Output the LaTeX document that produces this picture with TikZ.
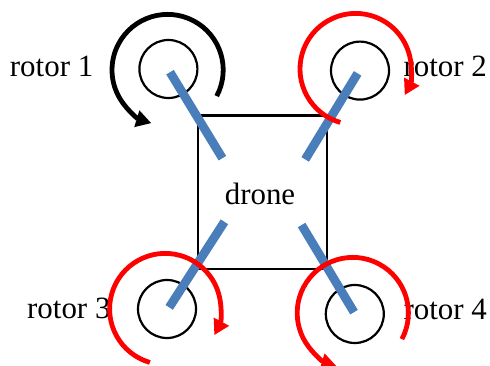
\documentclass[tikz,border=0pt]{standalone}
\usepackage{fontspec}
\setmainfont{Liberation Serif}
\usetikzlibrary{arrows.meta}
\definecolor{arm}{HTML}{4A7EBB}
\definecolor{spinred}{HTML}{FF0000}
\tikzset{
  frame/.style={draw=black, line width=0.06cm, inner sep=0pt},
  rotor/.style={draw=black, line width=0.055cm, circle, inner sep=0pt, minimum size=1.45cm},
  caption/.style={font=\fontsize{22}{26}\selectfont, inner sep=0pt},
  armline/.style={arm, line width=0.22cm},
  spin/.style={line width=0.12cm, -{Triangle[length=0.38cm, width=0.41cm]}}
}
\begin{document}
\begin{tikzpicture}
\useasboundingbox (0,0) rectangle (12.25,9.125);
% ---------- captions go under the arcs
\node[caption] (name1) at (1.29,7.47) {rotor 1};
\node[caption] (name2) at (11.13,7.47) {rotor 2};
\node[caption] (name3) at (1.72,1.41) {rotor 3};
\node[caption] (name4) at (11.13,1.40) {rotor 4};

% ---------- body and rotors
\node[frame, minimum width=3.22cm, minimum height=3.83cm] (drone) at (6.56,4.32) {};
\node[caption] (dronename) at (6.50,4.27) {drone};
\node[rotor] (rotor1) at (4.21,7.40) {};
\node[rotor] (rotor2) at (9.00,7.36) {};
\node[rotor] (rotor3) at (4.175,1.40) {};
\node[rotor] (rotor4) at (8.87,1.275) {};

% ---------- arms
\coordinate (hub1) at (4.25,7.32);
\coordinate (hub2) at (8.94,7.29);
\coordinate (hub3) at (4.23,1.44);
\coordinate (hub4) at (8.85,1.32);
\coordinate (root1) at (5.56,5.17);
\coordinate (root2) at (7.63,5.14);
\coordinate (root3) at (5.61,3.58);
\coordinate (root4) at (7.54,3.50);
\foreach \i in {1,2,3,4}{
  \draw[armline] (hub\i) -- (root\i);}

% ---------- spin arrows
\foreach \cx/\cy/\sa/\ea/\col in {4.19/7.375/-28/253/black, 8.89/7.40/254/-28/spinred,
    4.13/1.40/254/-28/spinred, 8.82/1.30/-28/253/spinred}{
  \draw[spin, \col] (\cx,\cy) ++(\sa:1.39) arc [start angle=\sa, end angle=\ea, radius=1.39];}
\end{tikzpicture}
\end{document}
